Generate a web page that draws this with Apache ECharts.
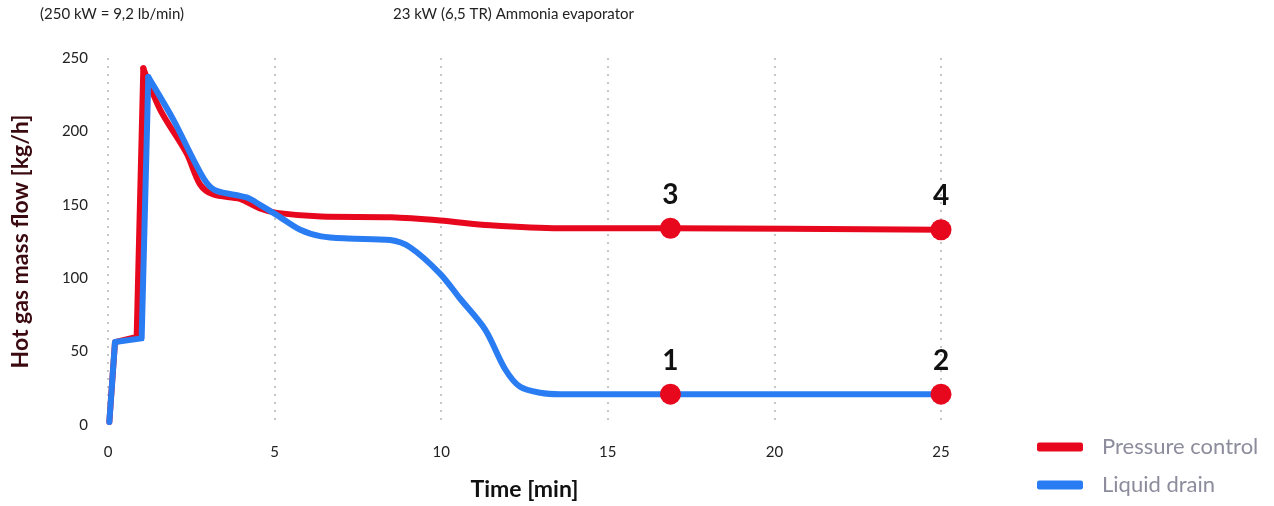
<!DOCTYPE html>
<html>
<head>
<meta charset="utf-8">
<script src="https://cdn.jsdelivr.net/npm/echarts@6/dist/echarts.min.js"></script>
<style>
html,body{margin:0;padding:0;background:#fff;}
#chart{width:1274px;height:506px;}
</style>
</head>
<body>
<div id="chart"></div>
<script>
const xTicks = [0, 5, 10, 15, 20, 25];
const yTicks = [0, 50, 100, 150, 200, 250];
const seriesNames = ['Pressure control', 'Liquid drain'];
const pressureTime = [0.04, 0.21, 0.86, 1.06, 1.56, 2.36, 2.76, 3.16, 3.96, 4.56, 5.07, 6.4, 8.5, 9.97, 11.47, 13.57, 16.88, 25];
const pressureFlow = [2, 56.5, 60, 243, 215, 185, 164, 157, 154, 147.5, 144.5, 142, 141.5, 139.3, 136, 134, 134, 133];
const drainTime = [0.04, 0.21, 1.01, 1.21, 1.96, 2.56, 2.96, 3.26, 4.16, 4.56, 5.07, 5.77, 6.4, 7.2, 8.47, 9.07, 9.97, 10.57, 11.32, 11.92, 12.37, 12.97, 13.57, 16.88, 25];
const drainFlow = [2, 56.5, 59, 237, 208, 181, 165, 159.5, 155, 150, 143, 133, 128.5, 127, 126, 121, 103, 86, 65, 38, 26, 22, 21, 21, 21];
const peakIndex = 3; // points before the peak are drawn as straight segments
const markerLabels = ['1', '2', '3', '4'];
const markerTime = [16.88, 25, 16.88, 25];
const markerFlow = [21, 21, 134, 133];
const topNotes = ['(250 kW = 9,2 lb/min)', '23 kW (6,5 TR) Ammonia evaporator'];

const FONT = 'Lato';
const RED = '#E8081E';
const BLUE = '#2A7CF3';

const zip = (a, b) => a.map((v, i) => [v, b[i]]);
const pressure = zip(pressureTime, pressureFlow);
const drain = zip(drainTime, drainFlow);

function lineSeries(name, data, color, smooth, z) {
  return {
    name, type: 'line', data, smooth, showSymbol: false, symbol: 'none',
    lineStyle: { color, width: 6, cap: 'round', join: 'round' }, itemStyle: { color }, z
  };
}

const chart = echarts.init(document.getElementById('chart'));
chart.setOption({
  animation: false,
  textStyle: { fontFamily: FONT },
  grid: { left: 108, right: 333, top: 58, bottom: 80, containLabel: false },
  graphic: [
    { type: 'text', left: 40, top: 7, style: { text: topNotes[0], font: '15px ' + FONT, fill: '#222' } },
    { type: 'text', left: 393, top: 7, style: { text: topNotes[1], font: '15px ' + FONT, fill: '#222' } }
  ],
  legend: {
    data: seriesNames.map(n => ({ name: n, icon: 'roundRect' })),
    orient: 'vertical',
    left: 1032,
    top: 431,
    itemWidth: 46,
    itemHeight: 9,
    itemGap: 16,
    textStyle: { fontSize: 22, color: '#8C8C9C', fontFamily: FONT, padding: [0, 0, 0, 14] }
  },
  xAxis: {
    type: 'value', min: 0, max: 25, interval: 5,
    name: 'Time [min]', nameLocation: 'middle', nameGap: 53,
    nameTextStyle: { fontSize: 23, fontWeight: 'bold', color: '#111', fontFamily: FONT },
    axisLine: { show: false }, axisTick: { show: false },
    axisLabel: { fontSize: 15, color: '#222', margin: 20, formatter: v => xTicks.includes(v) ? String(v) : '' },
    splitLine: { show: true, lineStyle: { type: [2, 6], color: '#b5b5b5', width: 1.5 } }
  },
  yAxis: {
    type: 'value', min: 0, max: 250, interval: 50,
    name: 'Hot gas mass flow [kg/h]', nameLocation: 'middle', nameGap: 76, nameRotate: 90,
    nameTextStyle: { fontSize: 23, fontWeight: 'bold', color: '#3A0A10', fontFamily: FONT },
    axisLine: { show: false }, axisTick: { show: false },
    axisLabel: { fontSize: 15, color: '#222', margin: 20, formatter: v => yTicks.includes(v) ? String(v) : '' },
    splitLine: { show: false }
  },
  series: [
    lineSeries(seriesNames[0], pressure.slice(0, peakIndex + 1), RED, false, 2),
    lineSeries(seriesNames[0], pressure.slice(peakIndex), RED, 0.3, 2),
    lineSeries(seriesNames[1], drain.slice(0, peakIndex + 1), BLUE, false, 3),
    lineSeries(seriesNames[1], drain.slice(peakIndex), BLUE, 0.3, 3),
    {
      name: 'markers', type: 'scatter', z: 5,
      data: markerTime.map((t, i) => ({ value: [t, markerFlow[i]], label: { formatter: markerLabels[i] } })),
      symbolSize: 21, itemStyle: { color: RED, opacity: 1 },
      label: { show: true, position: 'top', distance: 9, fontSize: 28, fontWeight: 'bold', color: '#111', fontFamily: FONT }
    }
  ]
});
</script>
</body>
</html>
